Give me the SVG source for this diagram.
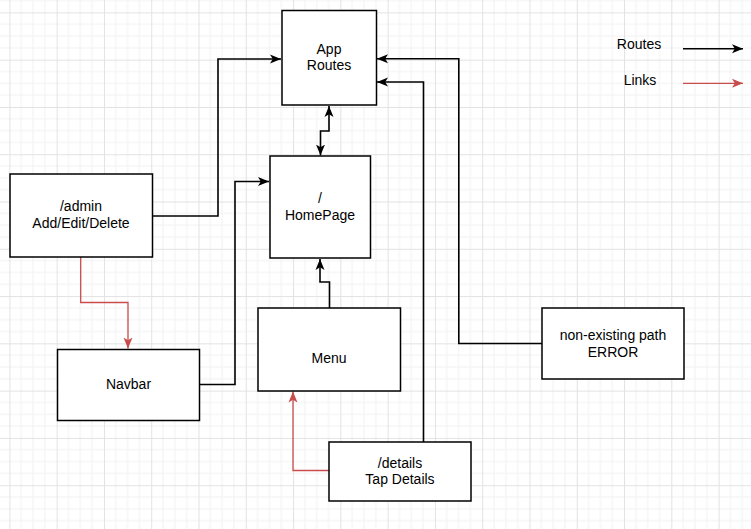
<svg xmlns="http://www.w3.org/2000/svg" width="751" height="529" viewBox="0 0 751 529">
<style>
.node rect{fill:#fff;stroke:#000;stroke-width:1.5}
.node text,.legend text{font-family:"Liberation Sans",Arial,Helvetica,sans-serif;font-size:14px;fill:#000;text-anchor:middle}
.route{fill:none;stroke:#000;stroke-width:1.6}
.link{fill:none;stroke:#c94c4c;stroke-width:1.3}
</style>
<defs>
<pattern id="grid" patternUnits="userSpaceOnUse" x="9.4" y="12.4" width="47.28" height="47.28">
<path d="M11.82 0V47.28M23.64 0V47.28M35.46 0V47.28M0 11.82H47.28M0 23.64H47.28M0 35.46H47.28" stroke="#f2f2f2" stroke-width="1" fill="none"/>
<path d="M0.5 0V47.28M0 0.5H47.28" stroke="#e2e2e2" stroke-width="1" fill="none"/>
</pattern>
<marker id="ab" markerUnits="userSpaceOnUse" markerWidth="12" markerHeight="10" refX="11" refY="5" orient="auto-start-reverse">
<path d="M0,0.5 L11,5 L0,9.5 L2.8,5 Z" fill="#000"/>
</marker>
<marker id="ar" markerUnits="userSpaceOnUse" markerWidth="12" markerHeight="10" refX="11" refY="5" orient="auto-start-reverse">
<path d="M0,0.5 L11,5 L0,9.5 L2.8,5 Z" fill="#c94c4c"/>
</marker>
</defs>
<rect width="751" height="529" fill="#fff"/>
<rect width="751" height="529" fill="url(#grid)"/>
<g id="connectors">
<path class="route" d="M152,216 H218 V59 H281" marker-end="url(#ab)"/>
<path class="route" d="M199,384.5 H235 V181.5 H269" marker-end="url(#ab)"/>
<path class="route" d="M329,106 V131 H320.5 V155.5" marker-start="url(#ab)" marker-end="url(#ab)"/>
<path class="route" d="M329.5,308 V282 H320 V259" marker-end="url(#ab)"/>
<path class="route" d="M423.5,442 V82 H377" marker-end="url(#ab)"/>
<path class="route" d="M542,343.5 H458.8 V58.8 H377" marker-end="url(#ab)"/>
<path class="link" d="M80.7,257 V302.5 H128 V348.5" marker-end="url(#ar)"/>
<path class="link" d="M329,470.5 H293 V391.5" marker-end="url(#ar)"/>
</g>
<g id="app-routes" class="node">
<rect x="282" y="10.5" width="94.5" height="94.5"/>
<text x="329" y="54">App</text>
<text x="329" y="70">Routes</text>
</g>
<g id="homepage" class="node">
<rect x="270" y="156" width="100.5" height="102"/>
<text x="320" y="203">/</text>
<text x="320" y="220">HomePage</text>
</g>
<g id="admin" class="node">
<rect x="10" y="174" width="142.5" height="83"/>
<text x="81" y="211">/admin</text>
<text x="81" y="228">Add/Edit/Delete</text>
</g>
<g id="navbar" class="node">
<rect x="57.5" y="349.5" width="142" height="71"/>
<text x="128.5" y="389">Navbar</text>
</g>
<g id="menu" class="node">
<rect x="258" y="308" width="142.5" height="83"/>
<text x="329" y="363">Menu</text>
</g>
<g id="details" class="node">
<rect x="329" y="442" width="142" height="59"/>
<text x="400" y="467.5">/details</text>
<text x="400" y="484">Tap Details</text>
</g>
<g id="error" class="node">
<rect x="542" y="308" width="142" height="71"/>
<text x="613" y="340">non-existing path</text>
<text x="613" y="357">ERROR</text>
</g>
<g id="legend" class="legend">
<text x="639" y="49">Routes</text>
<path class="route" d="M683,48.7 H743" marker-end="url(#ab)"/>
<text x="640" y="85">Links</text>
<path class="link" d="M683,83.3 H743" marker-end="url(#ar)"/>
</g>
</svg>
